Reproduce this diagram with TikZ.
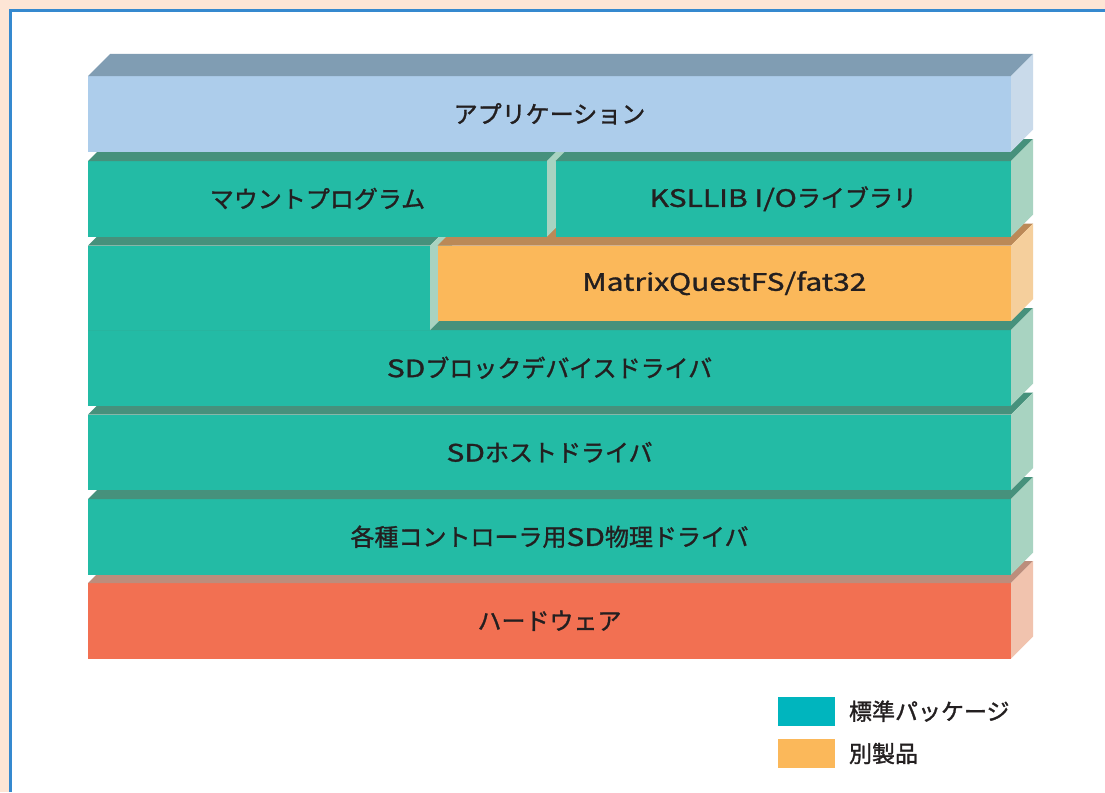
\documentclass[tikz,border=0pt]{standalone}
\usepackage{fontspec}
\newfontfamily\jp[FakeBold=1.3]{Noto Sans CJK JP}
\newfontfamily\lat[FakeBold=1.3,FakeStretch=1.25]{Noto Sans CJK JP}
\definecolor{beige}{HTML}{FDE5D5}
\definecolor{frameblue}{HTML}{3589CF}
\definecolor{ink}{HTML}{231F20}
\definecolor{blueF}{HTML}{ADCDEB}
\definecolor{blueT}{HTML}{809DB3}
\definecolor{blueS}{HTML}{C9DAEA}
\definecolor{greenF}{HTML}{23BBA5}
\definecolor{greenT}{HTML}{46917C}
\definecolor{greenS}{HTML}{A8D3C1}
\definecolor{orangeF}{HTML}{FBB85A}
\definecolor{orangeT}{HTML}{BB8957}
\definecolor{orangeS}{HTML}{F5CF9C}
\definecolor{redF}{HTML}{F27052}
\definecolor{redT}{HTML}{BC8D7C}
\definecolor{redS}{HTML}{F1C3AE}
\definecolor{teal}{HTML}{00B5BE}
% top and right faces of a block node
\newcommand\slab[3]{%
  \fill[#2] (#1.north west) -- ++(22,-22) -- ([shift={(22,-22)}]#1.north east) -- (#1.north east) -- cycle;
  \fill[#3] (#1.north east) -- ++(22,-22) -- ([shift={(22,-22)}]#1.south east) -- (#1.south east) -- cycle;}
\begin{document}
\begin{tikzpicture}[x=1pt,y=-1pt]
\tikzstyle{every node}=[inner sep=0pt,outer sep=0pt,text=ink,font=\jp\fontsize{24}{28}\selectfont]
\tikzstyle{block}=[anchor=north west,minimum height=75.5pt]
\tikzstyle{key}=[minimum width=57pt,minimum height=29pt]
\useasboundingbox (0,0) rectangle (1105,792);
\fill[beige] (0,0) rectangle (1105,792);
\fill[white] (10.5,10.5) rectangle (1105,792);
\draw[frameblue,line width=3pt] (10.5,792) -- (10.5,10.5) -- (1105,10.5);
% bottom to top
\node[block,fill=redF,minimum width=923pt] at (88,583) (hw) {ハードウェア};
\slab{hw}{redT}{redS}
\node[block,fill=greenF,minimum width=923pt] at (88,499) (phy) {各種コントローラ用{\lat SD}物理ドライバ};
\slab{phy}{greenT}{greenS}
\node[block,fill=greenF,minimum width=923pt] at (88,414.5) (host) {{\lat SD}ホストドライバ};
\slab{host}{greenT}{greenS}
\node[block,fill=greenF,minimum width=923pt] at (88,330) (blk) {{\lat SD}ブロックデバイスドライバ};
\slab{blk}{greenT}{greenS}
\node[block,fill=greenF,minimum width=342pt,minimum height=84.5pt] at (88,245.5) (blkl) {};
\slab{blkl}{greenT}{greenS}
\node[block,fill=orangeF,minimum width=573.3pt] at (437.7,245.5) (fat) {\lat MatrixQuestFS/fat32};
\slab{fat}{orangeT}{orangeS}
\node[block,fill=greenF,minimum width=459pt] at (88,161) (mnt) {マウントプログラム};
\slab{mnt}{greenT}{greenS}
\node[block,fill=greenF,minimum width=455.5pt] at (555.5,161) (ksl) {{\lat KSLLIB I/O}ライブラリ};
\slab{ksl}{greenT}{greenS}
\node[block,fill=blueF,minimum width=923pt] at (88,76) (app) {アプリケーション};
\slab{app}{blueT}{blueS}
% legend
\node[key,fill=teal] at (806.5,711.2) (k1) {};
\node[key,fill=orangeF] at (806.5,753.5) (k2) {};
\node[anchor=west,font=\jp\fontsize{23}{27}\selectfont] at (849,711.2) (l1) {標準パッケージ};
\node[anchor=west,font=\jp\fontsize{23}{27}\selectfont] at (849,753.5) (l2) {別製品};
\end{tikzpicture}
\end{document}
